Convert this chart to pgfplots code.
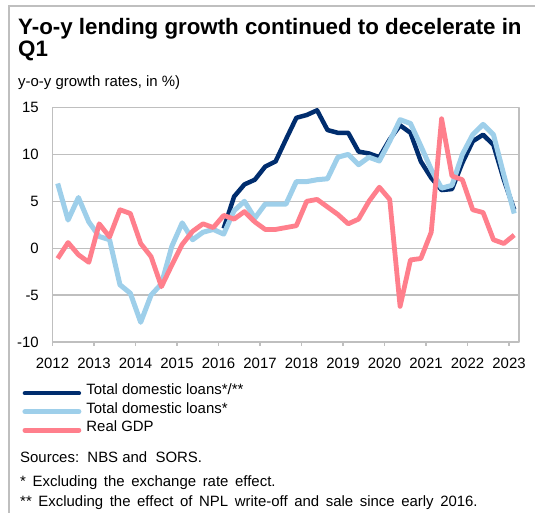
\documentclass[border=0pt]{standalone}
\usepackage{fontspec}
\setmainfont{Liberation Sans}
\usepackage{pgfplots}
\pgfplotsset{compat=1.18}
\usepackage{pgfplotstable}

\definecolor{navy}{RGB}{0,45,110}
\definecolor{lblue}{RGB}{158,207,234}
\definecolor{pinkred}{RGB}{255,127,140}
\definecolor{gridg}{RGB}{191,191,191}

\newcommand{\g}{\hspace{6.6bp}}

\pgfplotstableread{
x tot loans gdp
2012.125 nan 6.9 -1.1
2012.375 nan 3.0 0.6
2012.625 nan 5.4 -0.7
2012.875 nan 2.8 -1.5
2013.125 nan 1.25 2.6
2013.375 nan 0.9 1.2
2013.625 nan -3.9 4.1
2013.875 nan -4.8 3.7
2014.125 nan -7.9 0.5
2014.375 nan -5.0 -0.9
2014.625 nan -3.8 -4.1
2014.875 nan 0.2 -1.8
2015.125 nan 2.7 0.4
2015.375 nan 0.9 1.8
2015.625 nan 1.7 2.6
2015.875 nan 2.0 2.2
2016.125 2.1 1.5 3.5
2016.375 5.5 4.0 3.1
2016.625 6.8 5.0 3.9
2016.875 7.3 3.2 2.8
2017.125 8.7 4.7 2.0
2017.375 9.25 4.7 2.0
2017.625 11.6 4.7 2.2
2017.875 13.9 7.1 2.4
2018.125 14.2 7.1 5.0
2018.375 14.7 7.3 5.2
2018.625 12.6 7.4 4.4
2018.875 12.3 9.7 3.6
2019.125 12.3 10.0 2.6
2019.375 10.3 8.9 3.1
2019.625 10.1 9.7 5.0
2019.875 9.7 9.3 6.5
2020.125 11.6 11.4 5.2
2020.375 13.1 13.7 -6.2
2020.625 12.3 13.3 -1.25
2020.875 9.25 10.9 -1.1
2021.125 7.5 8.4 1.7
2021.375 6.2 6.4 13.8
2021.625 6.3 6.7 7.7
2021.875 9.1 10.0 7.3
2022.125 11.4 12.1 4.1
2022.375 12.1 13.2 3.8
2022.625 11.0 12.1 0.9
2022.875 7.3 7.8 0.5
2023.125 4.1 3.7 1.4
}\data

\begin{document}
\begin{tikzpicture}
\useasboundingbox (0,0) rectangle (535bp,513bp);
\draw[gridg, line width=1.3bp] (9bp,0) -- (9bp,507bp) -- (535bp,507bp);
\node[anchor=base west, inner sep=0pt, font=\bfseries\fontsize{22.4}{22.4}\selectfont] at (18bp,478bp) {Y-o-y lending growth continued to decelerate in};
\node[anchor=base west, inner sep=0pt, font=\bfseries\fontsize{22.4}{22.4}\selectfont] at (18bp,456bp) {Q1};
\node[anchor=base west, inner sep=0pt, font=\fontsize{15}{15}\selectfont] at (18bp,426bp) {y-o-y growth rates, in \%)};

\begin{axis}[
  at={(52.5bp,171bp)}, anchor=south west,
  scale only axis, width=466.5bp, height=234.5bp,
  xmin=2012, xmax=2023.24, ymin=-10, ymax=15,
  xtick={2012,2013,2014,2015,2016,2017,2018,2019,2020,2021,2022,2023},
  xticklabels={2012,2013,2014,2015,2016,2017,2018,2019,2020,2021,2022,2023},
  ytick={-10,-5,0,5,10,15},
  yticklabels={-10,-5,0,5,10,15},
  ymajorgrids,
  grid style={gridg, line width=1.2bp},
  axis line style={gridg, line width=1.3bp},
  tick align=outside, major tick length=4bp,
  xtick pos=bottom, ytick pos=left,
  x tick style={gridg, line width=1.2bp},
  y tick style={draw=none},
  tick label style={font=\fontsize{15}{15}\selectfont},
  xticklabel style={inner sep=0pt, anchor=north, yshift=-12bp},
  yticklabel style={inner sep=0pt, anchor=east, xshift=-9.5bp},
  legend style={at={(axis description cs:-0.0649,-0.178)}, anchor=north west,
    draw=none, fill=none, inner sep=0pt, row sep=0pt, column sep=0pt,
    font=\fontsize{15}{15}\selectfont,
    nodes={inner sep=0pt, text height=11bp, text depth=7.5bp}},
  legend cell align=left,
  legend image code/.code={\draw[#1, line cap=round] (0bp,0bp) -- (54bp,0bp); \path (59bp,0bp);},
  line join=round,
]
\addplot[navy, line width=4.5bp] table[x=x, y=tot] {\data};
\addlegendentry{Total domestic loans*/**}
\addplot[lblue, line width=5bp] table[x=x, y=loans] {\data};
\addlegendentry{Total domestic loans*}
\addplot[pinkred, line width=4.8bp] table[x=x, y=gdp] {\data};
\addlegendentry{Real GDP}
\end{axis}

\node[anchor=base west, inner sep=0pt, font=\fontsize{15}{15}\selectfont] at (20bp,50bp) {Sources:\ \ NBS and\ \ SORS.};
\node[anchor=base west, inner sep=0pt, font=\fontsize{15}{15}\selectfont] at (20bp,27bp) {*\g Excluding\g the\g exchange\g rate\g effect.};
\node[anchor=base west, inner sep=0pt, font=\fontsize{15}{15}\selectfont] at (20bp,6.5bp) {**\g Excluding\g the\g effect\g of\g NPL\g write-off\g and\g sale\g since\g early\g 2016.};
\end{tikzpicture}
\end{document}
